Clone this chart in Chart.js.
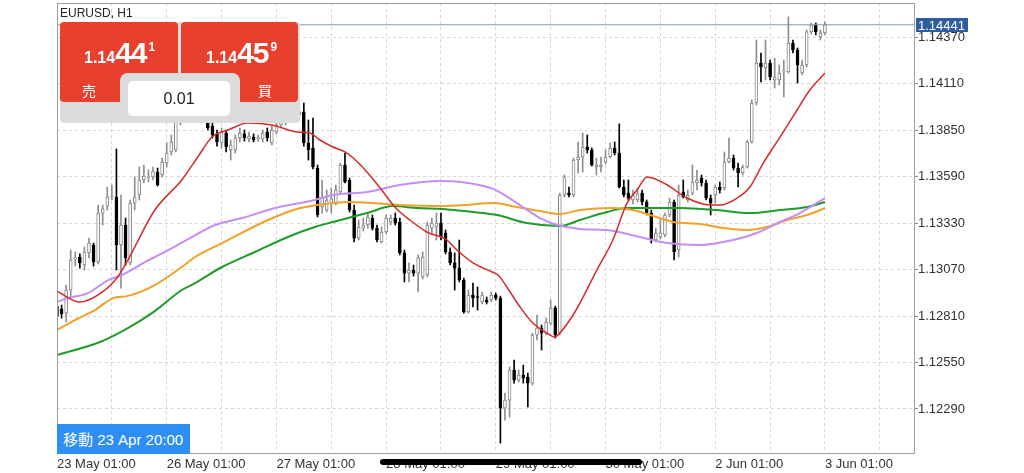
<!DOCTYPE html>
<html lang="ja">
<head>
<meta charset="UTF-8">
<title>EURUSD, H1</title>
<script src="https://cdn.jsdelivr.net/npm/chart.js"></script>
<style>
    body { margin: 0; background: #fff; font-family: 'Liberation Sans', Arial, sans-serif; }
    .wrap { position: relative; width: 1024px; height: 473px; overflow: hidden; }
    #chart { position: absolute; left: 0; top: 0; }
    .symbol { position: absolute; left: 60px; top: 7px; font-size: 12px; line-height: 12px; color: #222; }
    .panel { position: absolute; left: 60px; top: 22px; width: 240px; height: 101px; background: #dcdcdc; border-radius: 4px; }
    .btn { position: absolute; top: 22px; height: 80px; background: #e8402f; border-radius: 4px; color: #fff; }
    .price { position: absolute; top: 16px; line-height: 30px; font-weight: bold; white-space: nowrap; }
    .price .sm { font-size: 16px; }
    .price .big { font-size: 30px; letter-spacing: -1px; }
    .price .sup { font-size: 12px; position: relative; top: -12px; margin-left: 2px; }
    .side { position: absolute; top: 61px; font-size: 14px; line-height: 14px; font-family: 'Noto Sans CJK JP', sans-serif; }
    .notch { position: absolute; left: 120px; top: 73px; width: 120px; height: 50px; background: #dcdcdc; border-radius: 8px 8px 0 0; }
    .lot { position: absolute; left: 128px; top: 81px; width: 102px; height: 35px; background: #fff; border-radius: 5px; text-align: center; line-height: 35px; font-size: 16px; color: #222; }
    .move { position: absolute; left: 57px; top: 424px; width: 133px; height: 30px; background: #2f8ef3; color: #fff; font-size: 15px; line-height: 30px; box-sizing: border-box; padding-left: 6px; white-space: nowrap; }
    .move span { font-family: 'Noto Sans CJK JP', sans-serif; }
    .homebar { position: absolute; left: 380px; top: 459px; width: 262px; height: 6px; background: #000; border-radius: 3px; }
</style>
</head>
<body>
<div class="wrap">
    <canvas id="chart" width="1024" height="473"></canvas>
    <div class="symbol">EURUSD, H1</div>
    <div class="panel"></div>
    <div class="btn" style="left:60px;width:118px">
        <div class="price" style="left:24px"><span class="sm">1.14</span><span class="big">44</span><span class="sup">1</span></div>
        <div class="side" style="left:22px">売</div>
    </div>
    <div class="btn" style="left:181px;width:117px">
        <div class="price" style="left:25px"><span class="sm">1.14</span><span class="big">45</span><span class="sup">9</span></div>
        <div class="side" style="left:77px">買</div>
    </div>
    <div class="notch"></div>
    <div class="lot">0.01</div>
    <div class="move"><span>移動</span> 23 Apr 20:00</div>
    <div class="homebar"></div>
</div>

<script>
    // H1 candles, index 0 = 23 May 01:00
    const open = [
        1.12866,1.12850,1.12827,1.12956,1.13130,1.13141,1.13096,1.13164,1.13208,1.13113,
        1.13387,1.13426,1.13477,1.13477,1.13208,1.13320,1.13108,1.13443,1.13488,1.13572,
        1.13589,1.13589,1.13617,1.13600,1.13667,1.13729,1.13740,1.13897,1.13992,1.14048,
        1.14020,1.14065,1.14020,1.13919,1.13874,1.13830,1.13779,1.13835,1.13740,1.13740,
        1.13807,1.13830,1.13802,1.13813,1.13804,1.13802,1.13841,1.13779,1.13841,1.13880,
        1.13897,1.13919,1.13953,1.13936,1.13953,1.13779,1.13751,1.13639,1.13421,1.13404,
        1.13443,1.13443,1.13505,1.13656,1.13572,1.13404,1.13247,1.13303,1.13320,1.13359,
        1.13303,1.13225,1.13281,1.13337,1.13359,1.13337,1.13164,1.13051,1.13068,1.13051,
        1.13029,1.13040,1.13303,1.13309,1.13331,1.13275,1.13169,1.13108,1.13079,1.13012,
        1.12833,1.12928,1.12917,1.12889,1.12900,1.12900,1.12928,1.12911,1.12295,1.12340,
        1.12508,1.12452,1.12480,1.12469,1.12435,1.12704,1.12743,1.12715,1.12771,1.12855,
        1.12715,1.13488,1.13499,1.13488,1.13684,1.13701,1.13757,1.13740,1.13645,1.13645,
        1.13673,1.13701,1.13751,1.13723,1.13533,1.13499,1.13460,1.13460,1.13499,1.13449,
        1.13387,1.13236,1.13253,1.13264,1.13376,1.13449,1.13180,1.13505,1.13460,1.13499,
        1.13555,1.13583,1.13555,1.13471,1.13488,1.13533,1.13527,1.13673,1.13695,1.13639,
        1.13611,1.13645,1.13785,1.14003,1.14227,1.14199,1.14227,1.14132,1.14132,1.14177,
        1.14177,1.14339,1.14300,1.14171,1.14216,1.14401,1.14440,1.14373,1.14395
    ];
    const high = [
        1.12889,1.12872,1.12984,1.13180,1.13169,1.13158,1.13197,1.13247,1.13219,1.13432,
        1.13432,1.13533,1.13544,1.13746,1.13488,1.13359,1.13460,1.13589,1.13645,1.13656,
        1.13628,1.13645,1.13639,1.13695,1.13779,1.13824,1.13919,1.14020,1.14087,1.14076,
        1.14104,1.14087,1.14042,1.13964,1.13897,1.13852,1.13863,1.13852,1.13796,1.13824,
        1.13863,1.13852,1.13841,1.13830,1.13824,1.13852,1.13863,1.13874,1.13919,1.13936,
        1.13964,1.13992,1.13992,1.13992,1.14003,1.13908,1.13919,1.13656,1.13572,1.13516,
        1.13527,1.13544,1.13667,1.13723,1.13583,1.13432,1.13348,1.13359,1.13387,1.13376,
        1.13320,1.13309,1.13376,1.13376,1.13387,1.13359,1.13180,1.13108,1.13096,1.13152,
        1.13169,1.13337,1.13359,1.13387,1.13387,1.13292,1.13192,1.13164,1.13236,1.13023,
        1.12956,1.12995,1.12973,1.12945,1.12917,1.12945,1.12939,1.12922,1.12379,1.12525,
        1.12564,1.12508,1.12536,1.12491,1.12715,1.12816,1.12760,1.12799,1.12900,1.12866,
        1.13499,1.13600,1.13533,1.13695,1.13785,1.13835,1.13824,1.13751,1.13695,1.13701,
        1.13740,1.13779,1.13785,1.13886,1.13572,1.13572,1.13516,1.13527,1.13516,1.13460,
        1.13404,1.13303,1.13348,1.13387,1.13471,1.13460,1.13544,1.13572,1.13516,1.13656,
        1.13628,1.13600,1.13572,1.13488,1.13544,1.13561,1.13729,1.13807,1.13712,1.13667,
        1.13656,1.13796,1.14020,1.14356,1.14283,1.14356,1.14244,1.14255,1.14216,1.14244,
        1.14485,1.14356,1.14311,1.14244,1.14412,1.14451,1.14451,1.14412,1.14457
    ];
    const low = [
        1.12788,1.12799,1.12777,1.12917,1.13090,1.13079,1.13068,1.13136,1.13090,1.13102,
        1.13320,1.13404,1.13460,1.13068,1.12967,1.13096,1.13096,1.13404,1.13460,1.13555,
        1.13561,1.13572,1.13538,1.13589,1.13645,1.13712,1.13729,1.13880,1.13964,1.13992,
        1.13998,1.13986,1.13919,1.13852,1.13807,1.13762,1.13751,1.13729,1.13684,1.13723,
        1.13785,1.13790,1.13785,1.13785,1.13790,1.13785,1.13790,1.13768,1.13830,1.13863,
        1.13880,1.13897,1.13908,1.13908,1.13762,1.13684,1.13634,1.13365,1.13387,1.13393,
        1.13387,1.13432,1.13494,1.13555,1.13393,1.13225,1.13236,1.13286,1.13303,1.13292,
        1.13225,1.13219,1.13270,1.13320,1.13320,1.13152,1.13001,1.13001,1.13034,1.12945,
        1.13018,1.13029,1.13275,1.13236,1.13236,1.13158,1.13096,1.12956,1.13001,1.12827,
        1.12827,1.12861,1.12844,1.12878,1.12878,1.12889,1.12900,1.12099,1.12228,1.12245,
        1.12435,1.12441,1.12435,1.12301,1.12424,1.12676,1.12620,1.12704,1.12760,1.12687,
        1.12704,1.13477,1.13477,1.13477,1.13611,1.13617,1.13723,1.13650,1.13600,1.13617,
        1.13662,1.13695,1.13712,1.13527,1.13477,1.13460,1.13438,1.13449,1.13432,1.13376,
        1.13219,1.13225,1.13242,1.13253,1.13365,1.13124,1.13141,1.13471,1.13449,1.13488,
        1.13516,1.13538,1.13460,1.13376,1.13443,1.13499,1.13516,1.13667,1.13628,1.13533,
        1.13600,1.13639,1.13779,1.13992,1.14121,1.14132,1.14132,1.14087,1.14104,1.14037,
        1.14171,1.14283,1.14115,1.14160,1.14205,1.14390,1.14384,1.14356,1.14384
    ];
    const close = [
        1.12810,1.12822,1.12956,1.13124,1.13136,1.13108,1.13169,1.13219,1.13113,1.13387,
        1.13410,1.13477,1.13482,1.13208,1.13320,1.13136,1.13443,1.13477,1.13572,1.13594,
        1.13594,1.13622,1.13544,1.13673,1.13723,1.13785,1.13897,1.13992,1.14048,1.14020,
        1.14065,1.14020,1.13953,1.13863,1.13824,1.13785,1.13841,1.13757,1.13768,1.13807,
        1.13835,1.13807,1.13818,1.13796,1.13807,1.13835,1.13807,1.13852,1.13880,1.13897,
        1.13919,1.13953,1.13936,1.13953,1.13779,1.13740,1.13645,1.13376,1.13477,1.13460,
        1.13466,1.13516,1.13656,1.13561,1.13404,1.13247,1.13309,1.13320,1.13365,1.13303,
        1.13236,1.13281,1.13359,1.13359,1.13331,1.13164,1.13051,1.13068,1.13051,1.13136,
        1.13141,1.13320,1.13331,1.13331,1.13253,1.13169,1.13108,1.13079,1.13012,1.12833,
        1.12928,1.12911,1.12914,1.12928,1.12889,1.12928,1.12911,1.12295,1.12340,1.12508,
        1.12452,1.12480,1.12463,1.12435,1.12704,1.12743,1.12715,1.12777,1.12855,1.12704,
        1.13488,1.13589,1.13488,1.13684,1.13701,1.13757,1.13740,1.13656,1.13656,1.13656,
        1.13701,1.13751,1.13723,1.13533,1.13488,1.13471,1.13488,1.13494,1.13449,1.13387,
        1.13236,1.13275,1.13275,1.13376,1.13449,1.13169,1.13488,1.13477,1.13488,1.13561,
        1.13572,1.13555,1.13471,1.13443,1.13533,1.13516,1.13673,1.13695,1.13639,1.13611,
        1.13645,1.13785,1.14003,1.14227,1.14205,1.14227,1.14149,1.14149,1.14171,1.14182,
        1.14339,1.14300,1.14216,1.14216,1.14401,1.14440,1.14401,1.14395,1.14441
    ];

    // moving averages: [candle index, price]
    const maRed = [[0,1.12950],[5.0,1.12889],[10.5,1.12956],[13.1,1.13023],[15.5,1.13124],[21.4,1.13404],
        [27.3,1.13572],[30.8,1.13701],[33.9,1.13813],[37.4,1.13852],[41.8,1.13891],[47.0,1.13880],[52.5,1.13841],
        [55.3,1.13835],[57.5,1.13796],[60.4,1.13757],[63.0,1.13729],[64.8,1.13695],[67.8,1.13617],[70.7,1.13527],
        [73.9,1.13421],[77.2,1.13348],[80.9,1.13281],[85.3,1.13236],[87.5,1.13180],[91.0,1.13108],[95.2,1.13057],
        [96.5,1.13040],[98.4,1.12973],[101.3,1.12861],[104.1,1.12771],[107.2,1.12715],[108.9,1.12693],[110.0,1.12715],
        [113.3,1.12833],[118.1,1.13068],[121.6,1.13236],[124.7,1.13443],[126.9,1.13516],[129.1,1.13589],[133.5,1.13544],
        [137.8,1.13471],[142.9,1.13432],[145.0,1.13432],[148.8,1.13471],[151.6,1.13533],[154.5,1.13667],[158.2,1.13813],
        [161.9,1.13964],[164.7,1.14076],[168.0,1.14171]];
    const maPurple = [[0,1.12889],[2.4,1.12911],[6.8,1.12939],[11.2,1.13012],[14.2,1.13040],[19.3,1.13113],
        [23.6,1.13169],[27.6,1.13225],[34.6,1.13320],[40.5,1.13359],[47.7,1.13415],[56.4,1.13460],[60.4,1.13488],
        [67.8,1.13505],[75.0,1.13544],[83.8,1.13566],[88.2,1.13561],[95.4,1.13522],[100.6,1.13443],[105.7,1.13359],
        [109.4,1.13320],[114.4,1.13298],[120.3,1.13292],[127.5,1.13253],[133.5,1.13219],[140.7,1.13208],[147.9,1.13236],
        [153.1,1.13275],[158.2,1.13337],[162.5,1.13387],[168.0,1.13471]];
    const maOrange = [[0,1.12732],[3.9,1.12788],[8.3,1.12844],[12.3,1.12911],[15.3,1.12922],[21.4,1.12984],
        [27.3,1.13085],[30.2,1.13141],[36.1,1.13219],[46.2,1.13348],[53.2,1.13415],[56.9,1.13432],[64.1,1.13449],
        [75.0,1.13432],[83.8,1.13426],[89.7,1.13432],[95.4,1.13443],[100.6,1.13421],[105.7,1.13398],[110.0,1.13382],
        [114.4,1.13404],[121.6,1.13415],[126.0,1.13404],[129.7,1.13376],[134.8,1.13337],[140.7,1.13326],[145.7,1.13303],
        [151.0,1.13292],[155.3,1.13309],[159.7,1.13348],[164.1,1.13376],[168.0,1.13415]];
    const maGreen = [[0,1.12592],[9.4,1.12665],[15.5,1.12743],[21.4,1.12838],[27.3,1.12956],[30.2,1.12995],
        [36.1,1.13085],[43.3,1.13169],[50.5,1.13253],[56.4,1.13309],[60.4,1.13337],[67.8,1.13387],[73.5,1.13426],
        [78.8,1.13415],[84.4,1.13410],[91.0,1.13393],[96.3,1.13376],[102.8,1.13331],[110.0,1.13314],[114.4,1.13348],
        [120.3,1.13393],[124.7,1.13415],[129.7,1.13415],[136.3,1.13415],[144.4,1.13404],[151.6,1.13387],[158.2,1.13404],
        [164.1,1.13421],[168.0,1.13449]];

    const bidPrice = 1.14441;
    const priceTicks = [1.12290, 1.12550, 1.12810, 1.13070, 1.13330, 1.13590, 1.13850, 1.14110, 1.14370];
    const dateLabels = ['23 May 01:00', '26 May 01:00', '27 May 01:00', '28 May 01:00',
                        '29 May 01:00', '30 May 01:00', '2 Jun 01:00', '3 Jun 01:00'];
    const xMax = 187.7;

    const idx = close.map((c, i) => i);
    const bull = close.map((c, i) => c >= open[i]);
    const toPts = arr => arr.map(p => ({x: p[0], y: p[1]}));

    Chart.defaults.font.family = "'Liberation Sans', Arial, sans-serif";
    Chart.defaults.font.size = 13;
    Chart.defaults.color = '#333';

    function maLine(pts, color, width) {
        return {
            type: 'line', order: 0, data: toPts(pts),
            borderColor: color, borderWidth: width,
            pointRadius: 0, cubicInterpolationMode: 'monotone'
        };
    }

    // no label padding: the plot box is fixed like the MT5 screen
    function noPad(s) {
        s.paddingTop = 0; s.paddingBottom = 0; s.paddingLeft = 0; s.paddingRight = 0;
    }

    const frame = {
        id: 'frame',
        afterDraw(chart) {
            const {ctx, chartArea: a, scales: {y}} = chart;
            ctx.save();
            ctx.strokeStyle = '#9e9e9e';
            ctx.lineWidth = 1;
            ctx.strokeRect(a.left + 0.5, a.top + 0.5, a.right - a.left - 1, a.bottom - a.top - 1);
            const py = Math.round(y.getPixelForValue(bidPrice));
            ctx.fillStyle = '#2e5e9e';
            ctx.fillRect(a.right + 1, py - 7, 52, 14);
            ctx.fillStyle = '#fff';
            ctx.font = "13px 'Liberation Sans', Arial";
            ctx.textBaseline = 'middle';
            ctx.fillText(bidPrice.toFixed(5), a.right + 3, py + 1);
            ctx.restore();
        }
    };

    new Chart(document.getElementById('chart'), {
        type: 'bar',
        data: {
            datasets: [
                maLine(maRed, '#d42b2b', 1.5),
                maLine(maPurple, '#c48ff2', 2),
                maLine(maOrange, '#f0a12a', 2),
                maLine(maGreen, '#1f9a2b', 2),
                {
                    type: 'line', order: 0,
                    data: [{x: 0, y: bidPrice}, {x: xMax, y: bidPrice}],
                    borderColor: '#7f98b9', borderWidth: 1, pointRadius: 0
                },
                {
                    label: 'body', order: 1, grouped: false,
                    data: idx.map(i => ({x: i, y: [open[i], close[i]]})),
                    backgroundColor: bull.map(b => b ? '#ffffff' : '#000000'),
                    borderColor: bull.map(b => b ? '#858585' : '#000000'),
                    borderWidth: 1, borderSkipped: false,
                    barThickness: 3, minBarLength: 1
                },
                {
                    label: 'wick', order: 2, grouped: false,
                    data: idx.map(i => ({x: i, y: [low[i], high[i]]})),
                    backgroundColor: bull.map(b => b ? '#8e8e8e' : '#000000'),
                    barThickness: 1
                }
            ]
        },
        options: {
            responsive: false,
            animation: false,
            layout: {padding: {left: 57, top: 3, right: 0, bottom: 0}},
            plugins: {legend: {display: false}, tooltip: {enabled: false}},
            scales: {
                x: {
                    type: 'linear', min: 0, max: xMax, offset: false,
                    afterFit: s => { s.height = 19; noPad(s); },
                    afterBuildTicks: s => {
                        const t = [];
                        for (let v = 0; v <= 180; v += 12) t.push({value: v});
                        s.ticks = t;
                    },
                    grid: {color: '#d6d6d6', drawTicks: false, offset: false},
                    border: {display: false, dash: [3, 3]},
                    ticks: {
                        autoSkip: false, maxRotation: 0, align: 'start', padding: 3,
                        callback: v => (v % 24 === 0 ? dateLabels[v / 24] : '')
                    }
                },
                y: {
                    position: 'right', min: 1.12038, max: 1.14563,
                    afterFit: s => { s.width = 109; noPad(s); },
                    afterBuildTicks: s => { s.ticks = priceTicks.map(v => ({value: v})); },
                    grid: {color: '#d6d6d6', tickLength: 3, tickColor: '#8a8a8a'},
                    border: {display: false, dash: [3, 3]},
                    ticks: {padding: 0, callback: v => v.toFixed(5)}
                }
            }
        },
        plugins: [frame]
    });
</script>
</body>
</html>
